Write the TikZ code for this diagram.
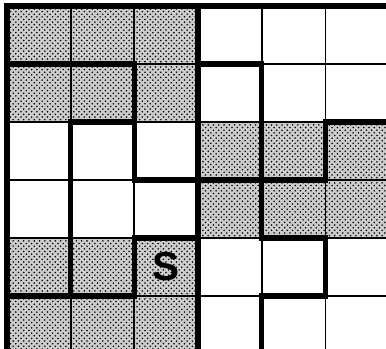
\documentclass[tikz,border=0pt]{standalone}
\usepackage{fontspec}
\setmainfont{Liberation Sans}
\usetikzlibrary{patterns}

\begin{document}
\begin{tikzpicture}[x=1.274cm, y=-1.16cm,
  gridline/.style={black, line width=1.1pt},
  wall/.style={black, line width=3pt, line cap=rect},
  shaded/.style={fill=gray!40, postaction={pattern=crosshatch dots, pattern color=black}}]

\useasboundingbox (-0.11,-0.103) rectangle (5.95,5.914);
\clip (-0.11,-0.103) rectangle (5.95,5.914);

% Shaded blocks
\fill[shaded] (0,0) rectangle (3,2);
\fill[shaded] (3,2) rectangle (6,4);
\fill[shaded] (0,4) rectangle (3,6);

% Thin grid
\foreach \i in {0,...,6} {
  \draw[gridline] (\i,0) -- (\i,6);
  \draw[gridline] (0,\i) -- (6,\i);
}

% Thick walls, vertical
\foreach \x/\ya/\yb in {0/0/6, 1/2/5, 2/1/3, 2/4/5, 3/0/6, 4/1/4, 4/5/6, 5/2/3, 5/4/5}
  \draw[wall] (\x,\ya) -- (\x,\yb);

% Thick walls, horizontal
\foreach \y/\xa/\xb in {0/0/6, 1/0/2, 1/3/4, 2/1/2, 2/5/6, 3/2/5, 4/2/3, 4/4/5, 5/0/2, 5/4/5}
  \draw[wall] (\xa,\y) -- (\xb,\y);

% Start cell
\node[font=\bfseries\fontsize{23}{23}\selectfont] (start) at (2.5,4.5) {S};

\end{tikzpicture}
\end{document}
